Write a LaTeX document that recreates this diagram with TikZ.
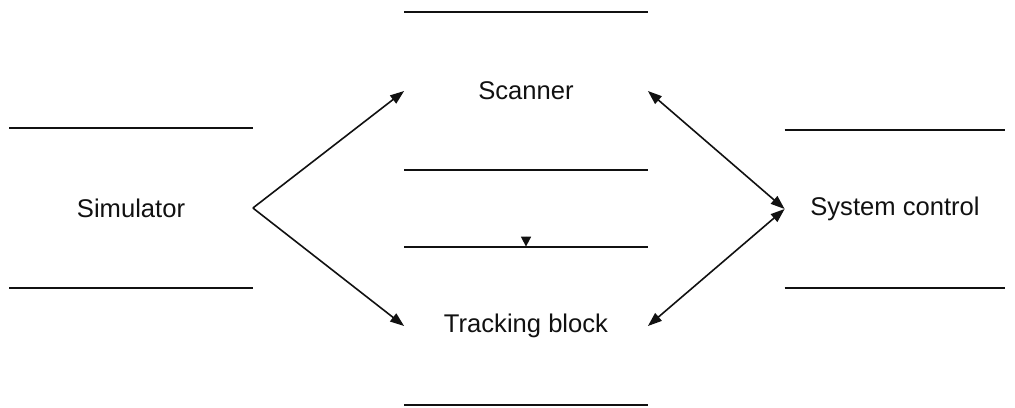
\documentclass[tikz,border=0pt]{standalone}
\usepackage{fontspec}
\setmainfont{Liberation Sans}
\usepackage{tikz}
\usetikzlibrary{arrows.meta,positioning}
\definecolor{inkBlack}{HTML}{111111}

\begin{document}
\begin{tikzpicture}[x=0.5pt,y=-0.5pt,
  unit/.style={minimum width=121.5pt,minimum height=79pt,inner sep=0pt,
               font=\fontsize{12.8}{15}\selectfont,text=inkBlack},
  rule/.style={draw=inkBlack,line width=1pt},
  link/.style={draw=inkBlack,line width=0.8pt,-{Triangle[length=7pt,width=5pt]}},
  both/.style={link,{Triangle[length=7pt,width=5pt]}-{Triangle[length=7pt,width=5pt]}}]
\useasboundingbox (0,0) rectangle (1015,407);
% the four blocks, open at the sides
\node[unit,minimum height=80pt] (sim) at (131,208) {Simulator};
\node[unit] (scan) at (526,91) {Scanner};
\node[unit] (track) at (526,326) {Tracking block};
\node[unit,minimum width=110pt] (ctrl) at (895,209) {System control};
\foreach \b in {sim,scan,track,ctrl}
  \draw[rule] (\b.north west) -- (\b.north east) (\b.south west) -- (\b.south east);
% links
\draw[link] (sim.east) -- (scan.west);
\draw[link] (sim.east) -- (track.west);
\draw[both] (scan.east) -- (ctrl.west);
\draw[both] (ctrl.west) -- (track.east);
\draw[link,-{Triangle[length=5pt,width=5pt]}] ([yshift=5pt]track.north) -- (track.north);
\end{tikzpicture}
\end{document}
